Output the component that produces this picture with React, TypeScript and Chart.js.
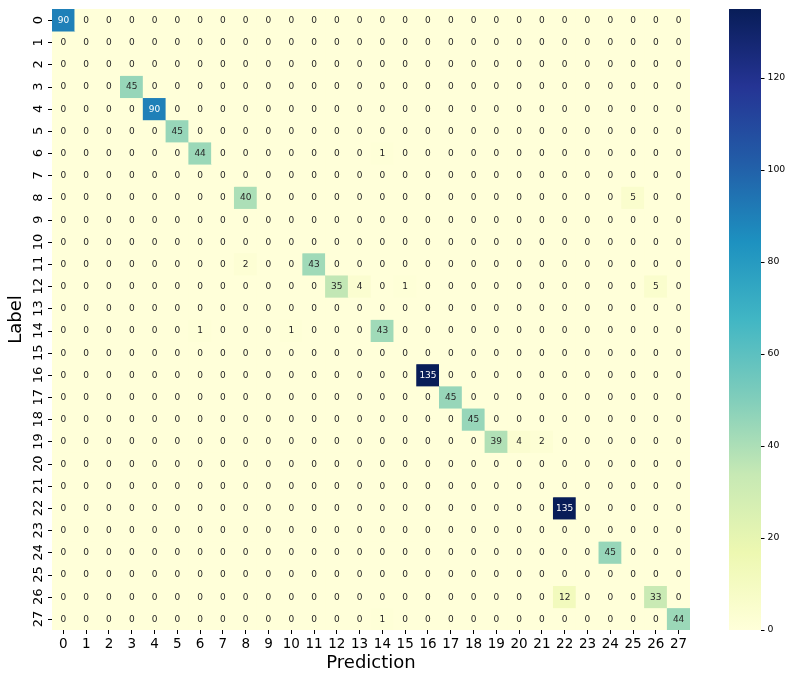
import React, { useEffect, useRef } from "react";
import { Chart, registerables } from "chart.js";

Chart.register(...registerables);

const predictionLabels = ["0", "1", "2", "3", "4", "5", "6", "7", "8", "9", "10", "11", "12", "13", "14", "15", "16", "17", "18", "19", "20", "21", "22", "23", "24", "25", "26", "27"];
const trueLabels = ["0", "1", "2", "3", "4", "5", "6", "7", "8", "9", "10", "11", "12", "13", "14", "15", "16", "17", "18", "19", "20", "21", "22", "23", "24", "25", "26", "27"];
const colorbarTicks = [0, 20, 40, 60, 80, 100, 120];
const colorMin = 0;
const colorMax = 135;
const xTitle = "Prediction";
const yTitle = "Label";

const row00 = [90, 0, 0, 0, 0, 0, 0, 0, 0, 0, 0, 0, 0, 0, 0, 0, 0, 0, 0, 0, 0, 0, 0, 0, 0, 0, 0, 0];
const row01 = [0, 0, 0, 0, 0, 0, 0, 0, 0, 0, 0, 0, 0, 0, 0, 0, 0, 0, 0, 0, 0, 0, 0, 0, 0, 0, 0, 0];
const row02 = [0, 0, 0, 0, 0, 0, 0, 0, 0, 0, 0, 0, 0, 0, 0, 0, 0, 0, 0, 0, 0, 0, 0, 0, 0, 0, 0, 0];
const row03 = [0, 0, 0, 45, 0, 0, 0, 0, 0, 0, 0, 0, 0, 0, 0, 0, 0, 0, 0, 0, 0, 0, 0, 0, 0, 0, 0, 0];
const row04 = [0, 0, 0, 0, 90, 0, 0, 0, 0, 0, 0, 0, 0, 0, 0, 0, 0, 0, 0, 0, 0, 0, 0, 0, 0, 0, 0, 0];
const row05 = [0, 0, 0, 0, 0, 45, 0, 0, 0, 0, 0, 0, 0, 0, 0, 0, 0, 0, 0, 0, 0, 0, 0, 0, 0, 0, 0, 0];
const row06 = [0, 0, 0, 0, 0, 0, 44, 0, 0, 0, 0, 0, 0, 0, 1, 0, 0, 0, 0, 0, 0, 0, 0, 0, 0, 0, 0, 0];
const row07 = [0, 0, 0, 0, 0, 0, 0, 0, 0, 0, 0, 0, 0, 0, 0, 0, 0, 0, 0, 0, 0, 0, 0, 0, 0, 0, 0, 0];
const row08 = [0, 0, 0, 0, 0, 0, 0, 0, 40, 0, 0, 0, 0, 0, 0, 0, 0, 0, 0, 0, 0, 0, 0, 0, 0, 5, 0, 0];
const row09 = [0, 0, 0, 0, 0, 0, 0, 0, 0, 0, 0, 0, 0, 0, 0, 0, 0, 0, 0, 0, 0, 0, 0, 0, 0, 0, 0, 0];
const row10 = [0, 0, 0, 0, 0, 0, 0, 0, 0, 0, 0, 0, 0, 0, 0, 0, 0, 0, 0, 0, 0, 0, 0, 0, 0, 0, 0, 0];
const row11 = [0, 0, 0, 0, 0, 0, 0, 0, 2, 0, 0, 43, 0, 0, 0, 0, 0, 0, 0, 0, 0, 0, 0, 0, 0, 0, 0, 0];
const row12 = [0, 0, 0, 0, 0, 0, 0, 0, 0, 0, 0, 0, 35, 4, 0, 1, 0, 0, 0, 0, 0, 0, 0, 0, 0, 0, 5, 0];
const row13 = [0, 0, 0, 0, 0, 0, 0, 0, 0, 0, 0, 0, 0, 0, 0, 0, 0, 0, 0, 0, 0, 0, 0, 0, 0, 0, 0, 0];
const row14 = [0, 0, 0, 0, 0, 0, 1, 0, 0, 0, 1, 0, 0, 0, 43, 0, 0, 0, 0, 0, 0, 0, 0, 0, 0, 0, 0, 0];
const row15 = [0, 0, 0, 0, 0, 0, 0, 0, 0, 0, 0, 0, 0, 0, 0, 0, 0, 0, 0, 0, 0, 0, 0, 0, 0, 0, 0, 0];
const row16 = [0, 0, 0, 0, 0, 0, 0, 0, 0, 0, 0, 0, 0, 0, 0, 0, 135, 0, 0, 0, 0, 0, 0, 0, 0, 0, 0, 0];
const row17 = [0, 0, 0, 0, 0, 0, 0, 0, 0, 0, 0, 0, 0, 0, 0, 0, 0, 45, 0, 0, 0, 0, 0, 0, 0, 0, 0, 0];
const row18 = [0, 0, 0, 0, 0, 0, 0, 0, 0, 0, 0, 0, 0, 0, 0, 0, 0, 0, 45, 0, 0, 0, 0, 0, 0, 0, 0, 0];
const row19 = [0, 0, 0, 0, 0, 0, 0, 0, 0, 0, 0, 0, 0, 0, 0, 0, 0, 0, 0, 39, 4, 2, 0, 0, 0, 0, 0, 0];
const row20 = [0, 0, 0, 0, 0, 0, 0, 0, 0, 0, 0, 0, 0, 0, 0, 0, 0, 0, 0, 0, 0, 0, 0, 0, 0, 0, 0, 0];
const row21 = [0, 0, 0, 0, 0, 0, 0, 0, 0, 0, 0, 0, 0, 0, 0, 0, 0, 0, 0, 0, 0, 0, 0, 0, 0, 0, 0, 0];
const row22 = [0, 0, 0, 0, 0, 0, 0, 0, 0, 0, 0, 0, 0, 0, 0, 0, 0, 0, 0, 0, 0, 0, 135, 0, 0, 0, 0, 0];
const row23 = [0, 0, 0, 0, 0, 0, 0, 0, 0, 0, 0, 0, 0, 0, 0, 0, 0, 0, 0, 0, 0, 0, 0, 0, 0, 0, 0, 0];
const row24 = [0, 0, 0, 0, 0, 0, 0, 0, 0, 0, 0, 0, 0, 0, 0, 0, 0, 0, 0, 0, 0, 0, 0, 0, 45, 0, 0, 0];
const row25 = [0, 0, 0, 0, 0, 0, 0, 0, 0, 0, 0, 0, 0, 0, 0, 0, 0, 0, 0, 0, 0, 0, 0, 0, 0, 0, 0, 0];
const row26 = [0, 0, 0, 0, 0, 0, 0, 0, 0, 0, 0, 0, 0, 0, 0, 0, 0, 0, 0, 0, 0, 0, 12, 0, 0, 0, 33, 0];
const row27 = [0, 0, 0, 0, 0, 0, 0, 0, 0, 0, 0, 0, 0, 0, 1, 0, 0, 0, 0, 0, 0, 0, 0, 0, 0, 0, 0, 44];

const matrix = [
  row00, row01, row02, row03, row04, row05, row06, row07, row08, row09,
  row10, row11, row12, row13, row14, row15, row16, row17, row18, row19,
  row20, row21, row22, row23, row24, row25, row26, row27,
];

// YlGnBu colormap anchors
const YLGNBU = [
  [255, 255, 217], [237, 248, 177], [199, 233, 180], [127, 205, 187], [65, 182, 196],
  [29, 145, 192], [34, 94, 168], [37, 52, 148], [8, 29, 88],
];

function cmapRGB(v: number): number[] {
  let t = (v - colorMin) / (colorMax - colorMin);
  t = Math.max(0, Math.min(1, t));
  const pos = t * (YLGNBU.length - 1);
  const i = Math.min(Math.floor(pos), YLGNBU.length - 2);
  const f = pos - i;
  const a = YLGNBU[i], b = YLGNBU[i + 1];
  return [0, 1, 2].map((k) => Math.round(a[k] + (b[k] - a[k]) * f));
}
function cmap(v: number): string {
  const [r, g, b] = cmapRGB(v);
  return `rgb(${r},${g},${b})`;
}
function textColorFor(v: number): string {
  const rgb = cmapRGB(v).map((c) => {
    const s = c / 255;
    return s <= 0.03928 ? s / 12.92 : Math.pow((s + 0.055) / 1.055, 2.4);
  });
  const lum = 0.2126 * rgb[0] + 0.7152 * rgb[1] + 0.0722 * rgb[2];
  return lum > 0.408 ? "#262626" : "#ffffff";
}

const FONT = '"DejaVu Sans", sans-serif';

const heatPlugin = {
  id: "heatExtras",
  beforeDatasetsDraw(chart: any) {
    const { ctx, chartArea } = chart;
    ctx.save();
    ctx.fillStyle = cmap(0);
    ctx.fillRect(chartArea.left, chartArea.top, chartArea.right - chartArea.left, chartArea.bottom - chartArea.top);
    ctx.restore();
  },
  afterDatasetsDraw(chart: any) {
    const { ctx } = chart;
    const xs = chart.scales.x;
    const ys = chart.scales.y;
    ctx.save();
    ctx.font = `9px ${FONT}`;
    ctx.textAlign = "center";
    ctx.textBaseline = "middle";
    matrix.forEach((row, r) => {
      row.forEach((v, c) => {
        ctx.fillStyle = textColorFor(v);
        ctx.fillText(String(v), xs.getPixelForValue(c), ys.getPixelForValue(r + 0.5) + 0.5);
      });
    });
    ctx.restore();
  },
  afterDraw(chart: any) {
    const { ctx, chartArea } = chart;
    const ys = chart.scales.y;
    const cb = chart.scales.y2;
    ctx.save();
    // y axis ticks and labels
    ctx.strokeStyle = "#000";
    ctx.lineWidth = 1;
    ctx.fillStyle = "#000";
    ctx.font = `13px ${FONT}`;
    ctx.textAlign = "center";
    ctx.textBaseline = "middle";
    trueLabels.forEach((lab, r) => {
      const yy = Math.round(ys.getPixelForValue(r + 0.5)) + 0.5;
      ctx.beginPath();
      ctx.moveTo(chartArea.left - 4, yy);
      ctx.lineTo(chartArea.left, yy);
      ctx.stroke();
      ctx.save();
      ctx.translate(chartArea.left - 13, ys.getPixelForValue(r + 0.5));
      ctx.rotate(-Math.PI / 2);
      ctx.fillText(lab, 0, 0);
      ctx.restore();
    });
    // y title
    ctx.save();
    ctx.font = `18px ${FONT}`;
    ctx.translate(16, (chartArea.top + chartArea.bottom) / 2);
    ctx.rotate(-Math.PI / 2);
    ctx.fillText(yTitle, 0, 0);
    ctx.restore();

    // colorbar
    const cbLeft = chartArea.right + 39;
    const cbWidth = 32;
    const top = cb.getPixelForValue(colorMax);
    const bottom = cb.getPixelForValue(colorMin);
    const grad = ctx.createLinearGradient(0, bottom, 0, top);
    YLGNBU.forEach((col, i) => {
      grad.addColorStop(i / (YLGNBU.length - 1), `rgb(${col[0]},${col[1]},${col[2]})`);
    });
    ctx.fillStyle = grad;
    ctx.fillRect(cbLeft, top, cbWidth, bottom - top);
    ctx.fillStyle = "#000";
    ctx.font = `9.3px ${FONT}`;
    ctx.textAlign = "left";
    ctx.textBaseline = "middle";
    colorbarTicks.forEach((t) => {
      const yy = Math.round(cb.getPixelForValue(t)) + 0.5;
      ctx.beginPath();
      ctx.moveTo(cbLeft + cbWidth, yy);
      ctx.lineTo(cbLeft + cbWidth + 3.5, yy);
      ctx.stroke();
      ctx.fillText(String(t), cbLeft + cbWidth + 6.5, cb.getPixelForValue(t));
    });
    ctx.restore();
  },
};

export default function App() {
  const ref = useRef<HTMLCanvasElement | null>(null);
  useEffect(() => {
    if (!ref.current) return;
    Chart.defaults.font.family = FONT;
    const datasets = matrix.map((row, r) => ({
      label: trueLabels[r],
      data: row.map(() => 1),
      backgroundColor: row.map((v) => cmap(v)),
      borderWidth: 0,
      barPercentage: 1,
      categoryPercentage: 1,
    }));
    const chart = new Chart(ref.current, {
      type: "bar",
      data: { labels: predictionLabels, datasets },
      options: {
        responsive: false,
        animation: false,
        devicePixelRatio: 1,
        layout: { padding: { left: 52, top: 9, right: 97, bottom: 0 } },
        plugins: { legend: { display: false }, tooltip: { enabled: false } },
        events: [],
        scales: {
          x: {
            stacked: true,
            afterFit: (s: any) => { s.height = 45; },
            grid: { display: true, drawOnChartArea: false, drawTicks: true, tickLength: 4, tickColor: "#000", tickWidth: 1, offset: false },
            border: { display: false },
            ticks: { color: "#000", font: { size: 13.5, family: FONT }, padding: 2, maxRotation: 0, autoSkip: false },
            title: { display: true, text: xTitle, color: "#000", font: { size: 18, family: FONT }, padding: { top: 0, bottom: 1 } },
          },
          y: {
            stacked: true,
            display: false,
            min: 0,
            max: 28,
            reverse: true,
          },
          y2: {
            type: "linear",
            position: "right",
            display: false,
            min: colorMin,
            max: colorMax,
          },
        },
      },
      plugins: [heatPlugin],
    } as any);
    return () => chart.destroy();
  }, []);
  return (
    <div style={{ position: "fixed", left: 0, top: 0, width: 787, height: 675, background: "#fff" }}>
      <canvas ref={ref} width={787} height={675} />
    </div>
  );
}
